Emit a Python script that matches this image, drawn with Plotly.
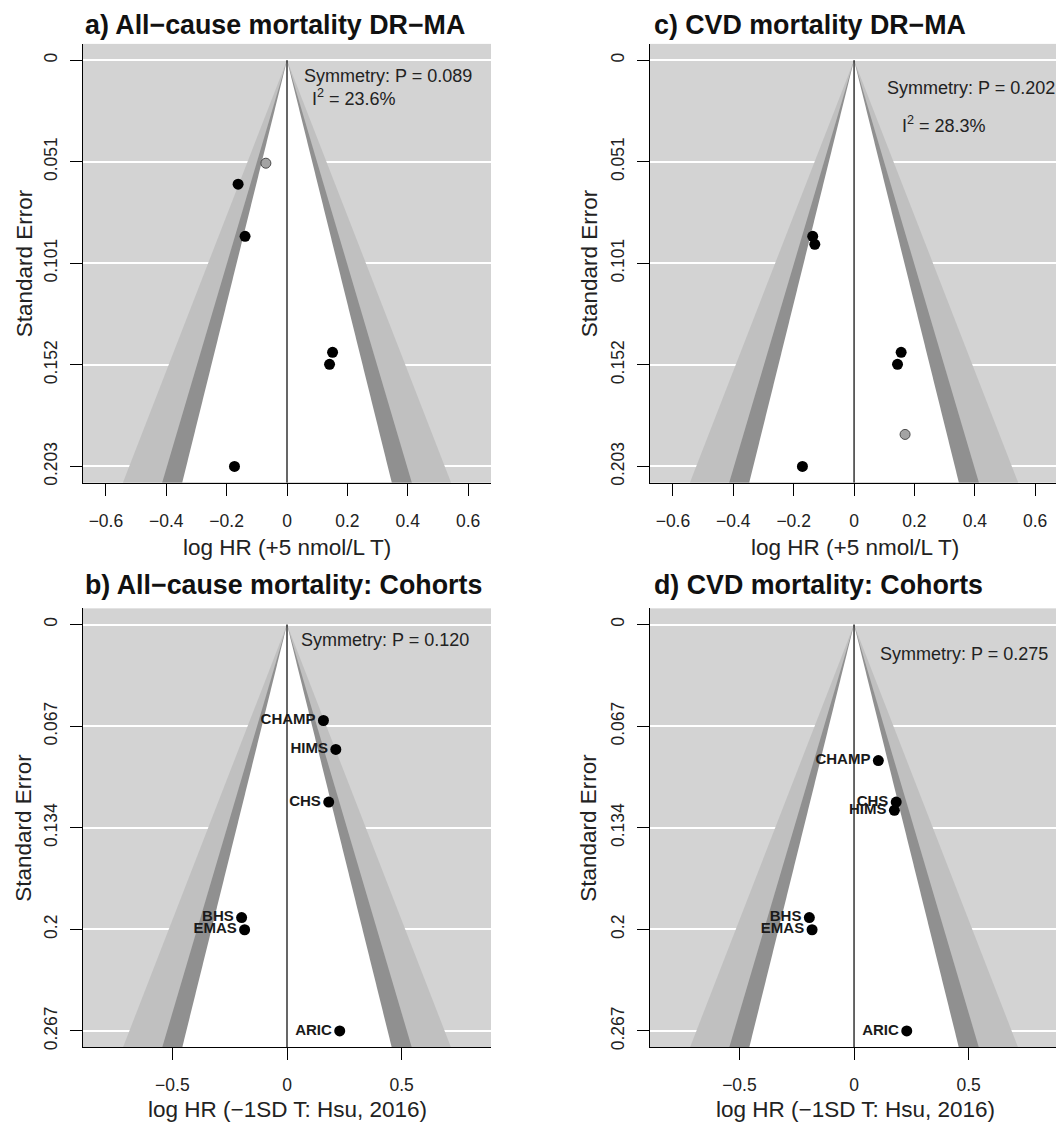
import plotly.graph_objects as go

# ---------------- data ----------------
# a) All-cause mortality DR-MA
a_est = [-0.162, -0.139, 0.151, 0.141, -0.174]
a_se = [0.062, 0.088, 0.146, 0.152, 0.203]
a_est_grey = [-0.070]
a_se_grey = [0.0515]
a_sym = "Symmetry: P = 0.089"
a_i2 = "I<sup>2</sup> = 23.6%"

# c) CVD mortality DR-MA
c_est = [-0.137, -0.130, 0.156, 0.144, -0.171]
c_se = [0.088, 0.092, 0.146, 0.152, 0.203]
c_est_grey = [0.169]
c_se_grey = [0.187]
c_sym = "Symmetry: P = 0.202"
c_i2 = "I<sup>2</sup> = 28.3%"

# b) All-cause mortality: Cohorts
cohorts = ["CHAMP", "HIMS", "CHS", "BHS", "EMAS", "ARIC"]
b_est = [0.159, 0.213, 0.182, -0.198, -0.185, 0.230]
b_se = [0.063, 0.082, 0.1166, 0.1925, 0.2005, 0.267]
b_sym = "Symmetry: P = 0.120"

# d) CVD mortality: Cohorts
d_est = [0.106, 0.176, 0.184, -0.195, -0.183, 0.230]
d_se = [0.0893, 0.122, 0.1166, 0.1925, 0.2005, 0.267]
d_sym = "Symmetry: P = 0.275"

dr_se_ticktext = ["0", "0.051", "0.101", "0.152", "0.203"]
coh_se_ticktext = ["0", "0.067", "0.134", "0.2", "0.267"]
dr_x_ticks = [-0.6, -0.4, -0.2, 0, 0.2, 0.4, 0.6]
coh_x_ticks = [-0.5, 0, 0.5]

titles = ["a) All\u2212cause mortality DR\u2212MA", "c) CVD mortality DR\u2212MA",
          "b) All\u2212cause mortality: Cohorts", "d) CVD mortality: Cohorts"]
xlab_dr = "log HR (+5 nmol/L T)"
xlab_coh = "log HR (\u22121SD T: Hsu, 2016)"
ylab = "Standard Error"

# contour levels (z for p = .10, .05, .01) and colours
z_levels = [2.576, 1.96, 1.645]
z_colors = ["#c0c0c0", "#909090", "#ffffff"]
BACK = "#d3d3d3"

W, H = 1056, 1126
FONT = "Liberation Sans, Arial, Helvetica, sans-serif"

fig = go.Figure()

def px_x(p):
    return p / W

def px_y(p):
    return 1 - p / H

panels = [
    dict(ax="", est=a_est, se=a_se, ge=a_est_grey, gs=a_se_grey, labels=None,
         maxse=0.203, xr=[-0.676, 0.676], dx=[83, 491], dy=[44, 484],
         sym=a_sym, i2=a_i2, sympos=(0.05, 0.0078), i2pos=(0.077, 0.0187),
         ticktext=dr_se_ticktext, xt=dr_x_ticks),
    dict(ax="2", est=c_est, se=c_se, ge=c_est_grey, gs=c_se_grey, labels=None,
         maxse=0.203, xr=[-0.676, 0.669], dx=[650, 1056], dy=[44, 484],
         sym=c_sym, i2=c_i2, sympos=(0.101, 0.0137), i2pos=(0.151, 0.032),
         ticktext=dr_se_ticktext, xt=dr_x_ticks),
    dict(ax="3", est=b_est, se=b_se, ge=[], gs=[], labels=cohorts,
         maxse=0.267, xr=[-0.89, 0.89], dx=[83, 491], dy=[610, 1050],
         sym=b_sym, i2=None, sympos=(0.052, 0.0098), i2pos=None,
         ticktext=coh_se_ticktext, xt=coh_x_ticks),
    dict(ax="4", est=d_est, se=d_se, ge=[], gs=[], labels=cohorts,
         maxse=0.267, xr=[-0.89, 0.881], dx=[650, 1056], dy=[610, 1050],
         sym=d_sym, i2=None, sympos=(0.103, 0.0195), i2pos=None,
         ticktext=coh_se_ticktext, xt=coh_x_ticks),
]

annotations = []
for p in panels:
    xa = "x" + p["ax"]
    ya = "y" + p["ax"]
    maxse = p["maxse"]
    bottom = maxse * 1.04
    top = -maxse * 0.04
    # contour polygons
    for z, col in zip(z_levels, z_colors):
        fig.add_trace(go.Scatter(
            x=[-z * bottom, 0, z * bottom, -z * bottom],
            y=[bottom, 0, bottom, bottom],
            mode="lines", fill="toself", fillcolor=col,
            line=dict(width=0, color=col), hoverinfo="skip",
            showlegend=False, xaxis=xa, yaxis=ya))
    # reference line
    fig.add_trace(go.Scatter(x=[0, 0], y=[0, bottom], mode="lines",
                             line=dict(color="black", width=1.2),
                             showlegend=False, hoverinfo="skip",
                             xaxis=xa, yaxis=ya))
    # grey points
    if p["ge"]:
        fig.add_trace(go.Scatter(x=p["ge"], y=p["gs"], mode="markers",
                                 marker=dict(size=10, color="#a3a3a3",
                                             line=dict(color="#4a4a4a", width=1)),
                                 showlegend=False, xaxis=xa, yaxis=ya))
    # black points
    if p["labels"]:
        fig.add_trace(go.Scatter(x=p["est"], y=p["se"], mode="markers+text",
                                 text=[f"<b>{t}</b>" for t in p["labels"]],
                                 textposition="middle left",
                                 textfont=dict(size=15, color="#1a1a1a", family=FONT),
                                 marker=dict(size=11, color="black"),
                                 showlegend=False, xaxis=xa, yaxis=ya))
    else:
        fig.add_trace(go.Scatter(x=p["est"], y=p["se"], mode="markers",
                                 marker=dict(size=11, color="black"),
                                 showlegend=False, xaxis=xa, yaxis=ya))

    key = p["ax"]
    xkey = "xaxis" + key
    ykey = "yaxis" + key
    fig.update_layout({
        xkey: dict(domain=[px_x(p["dx"][0]), min(1.0, px_x(p["dx"][1]))],
                   range=p["xr"], anchor=ya, showgrid=False, zeroline=False,
                   showline=True, linecolor="black", linewidth=1,
                   ticks="outside", ticklen=12, tickcolor="black", tickwidth=1,
                   tickvals=p["xt"], ticklabelstandoff=10,
                   tickfont=dict(size=17.5, color="#222", family=FONT)),
        ykey: dict(domain=[px_y(p["dy"][1]), px_y(p["dy"][0])],
                   range=[bottom, top], anchor=xa, showgrid=True,
                   gridcolor="white", gridwidth=1.5, zeroline=False,
                   showline=True, linecolor="black", linewidth=1,
                   ticks="outside", ticklen=12, tickcolor="black", tickwidth=1,
                   tickvals=[maxse * f for f in [0, 0.25, 0.5, 0.75, 1.0]],
                   ticktext=p["ticktext"], tickangle=-90, ticklabelstandoff=6,
                   tickfont=dict(size=17.5, color="#222", family=FONT)),
    })
    # symmetry / I2 text
    annotations.append(dict(x=p["sympos"][0], y=p["sympos"][1], xref=xa, yref=ya,
                            text=p["sym"], showarrow=False, xanchor="left",
                            yanchor="middle", font=dict(size=18, color="#222", family=FONT)))
    if p["i2"]:
        annotations.append(dict(x=p["i2pos"][0], y=p["i2pos"][1], xref=xa, yref=ya,
                                text=p["i2"], showarrow=False, xanchor="left",
                                yanchor="middle", font=dict(size=18, color="#222", family=FONT)))

# titles
title_pos = [(83, 25), (652, 25), (83, 587), (652, 587)]
for t, (tx, ty) in zip(titles, title_pos):
    annotations.append(dict(x=px_x(tx), y=px_y(ty), xref="paper", yref="paper",
                            text=f"<b>{t}</b>", showarrow=False, xanchor="left",
                            yanchor="middle", font=dict(size=26.8, color="#111", family=FONT)))
# x labels
for lab, (lx, ly) in zip([xlab_dr, xlab_dr, xlab_coh, xlab_coh],
                         [(287, 549), (855, 549), (287, 1112), (855, 1112)]):
    annotations.append(dict(x=px_x(lx), y=px_y(ly), xref="paper", yref="paper",
                            text=lab, showarrow=False, xanchor="center",
                            yanchor="middle", font=dict(size=22.5, color="#222", family=FONT)))
# y labels
for (lx, ly) in [(24, 264), (589, 264), (24, 830), (589, 830)]:
    annotations.append(dict(x=px_x(lx), y=px_y(ly), xref="paper", yref="paper",
                            text=ylab, showarrow=False, textangle=-90,
                            xanchor="center", yanchor="middle",
                            font=dict(size=22.5, color="#222", family=FONT)))

fig.update_layout(width=W, height=H, margin=dict(l=0, r=0, t=0, b=0),
                  paper_bgcolor="white", plot_bgcolor=BACK,
                  font=dict(family=FONT, color="#222"),
                  annotations=annotations, showlegend=False)

fig.write_html("out.html")
